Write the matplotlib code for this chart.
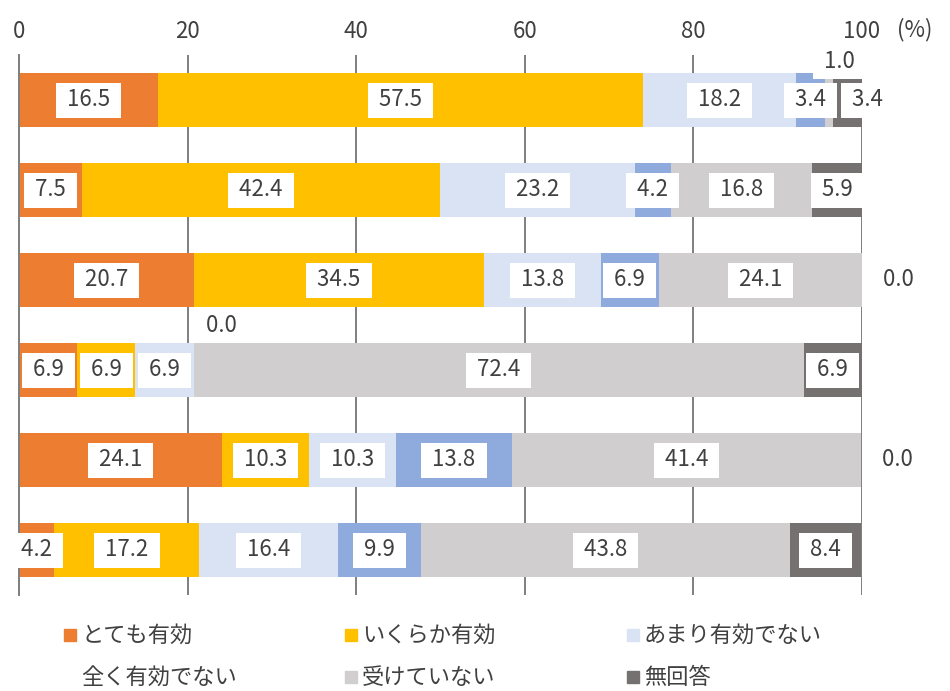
import numpy as np
import matplotlib.pyplot as plt
from matplotlib.patches import Rectangle

plt.rcParams['font.family'] = ['Noto Sans CJK JP', 'DejaVu Sans']

# data (%), one list per response category, rows top to bottom
categories = ['とても有効', 'いくらか有効', 'あまり有効でない', '全く有効でない', '受けていない', '無回答']
very = [16.5, 7.5, 20.7, 6.9, 24.1, 4.2]
somewhat = [57.5, 42.4, 34.5, 6.9, 10.3, 17.2]
not_much = [18.2, 23.2, 13.8, 6.9, 10.3, 16.4]
not_at_all = [3.4, 4.2, 6.9, 0.0, 13.8, 9.9]
not_received = [1.0, 16.8, 24.1, 72.4, 41.4, 43.8]
no_answer = [3.4, 5.9, 0.0, 6.9, 0.0, 8.4]
xticks = [0, 20, 40, 60, 80, 100]

series = [very, somewhat, not_much, not_at_all, not_received, no_answer]
colors = ['#ED7D31', '#FFC000', '#DAE3F3', '#8FAADC', '#D0CECE', '#767171']
txt = '#404040'

# label placement tweaks for small segments: (row, series) -> (dx, dy)
label_shift = {
    (0, 4): (1.2, -0.43),
    (0, 5): (2.4, 0.0),
    (2, 5): (4.3, 0.0),
    (3, 3): (3.3, -0.5),
    (4, 5): (4.3, 0.0),
}

W, H = 950, 691
fig = plt.figure(figsize=(W / 100, H / 100), dpi=100)
ax = fig.add_axes([19 / W, 1 - 595 / H, 843 / W, 540 / H])

rows = np.arange(len(very))
left = np.zeros(len(rows))
for j, (vals, c) in enumerate(zip(series, colors)):
    vals = np.array(vals)
    ax.barh(rows, vals, left=left, height=0.6, color=c, zorder=2)
    for i, v in enumerate(vals):
        dx, dy = label_shift.get((i, j), (0, 0))
        ax.text(left[i] + v / 2 + dx, i + dy, f' {v:.1f} ', ha='center', va='center',
                fontsize=16, color=txt, zorder=4, clip_on=False,
                bbox=dict(boxstyle='square,pad=0.27', fc='white', ec='none'))
    left += vals

ax.set_xlim(0, 100)
ax.set_ylim(len(rows) - 0.5, -0.5)
ax.set_xticks(xticks)
ax.xaxis.tick_top()
ax.tick_params(axis='x', length=0, pad=9, labelsize=16, labelcolor=txt)
ax.set_yticks([])
ax.grid(axis='x', color='#7f7f7f', lw=1.4)
ax.set_axisbelow(True)
for s in ['top', 'right', 'bottom']:
    ax.spines[s].set_visible(False)
ax.spines['left'].set_color('#7f7f7f')
ax.spines['left'].set_linewidth(1.4)

fig.text(915 / W, 1 - 30 / H, '(%)', ha='center', va='center', fontsize=16, color=txt)

# legend drawn by hand, row by row; 全く有効でない shows no marker in the original
col_x = [64, 345, 627]
row_y = [635, 677]
for k, (name, c) in enumerate(zip(categories, colors)):
    x0, y0 = col_x[k % 3], row_y[k // 3]
    if k != 3:
        fig.patches.append(Rectangle((x0 / W, 1 - (y0 + 6) / H), 12 / W, 12 / H,
                                     transform=fig.transFigure, color=c))
    fig.text((x0 + 17) / W, 1 - y0 / H, name, ha='left', va='center',
             fontsize=16, color=txt)

fig.savefig('out.png', dpi=100)
